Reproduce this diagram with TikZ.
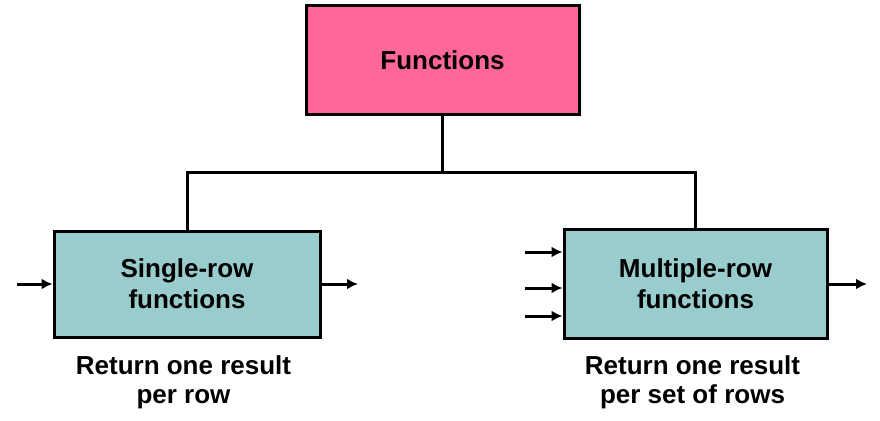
\documentclass[tikz,border=0pt]{standalone}
\usepackage{fontspec}
\setmainfont{Liberation Sans}
\usetikzlibrary{arrows.meta}
\definecolor{boxpink}{HTML}{FF6699}
\definecolor{boxteal}{HTML}{99CCCC}
\begin{document}
\begin{tikzpicture}[x=1pt,y=1pt,
  every node/.style={font=\bfseries\fontsize{26}{31}\selectfont, align=center, inner sep=0pt},
  fbox/.style={draw=black, line width=3pt},
  conn/.style={line width=3pt},
  arr/.style={line width=3pt, -{Latex[length=11pt,width=11pt]}},
  lbl/.style={font=\bfseries\fontsize{26}{29}\selectfont}
]
\useasboundingbox (0,0) rectangle (880,-420);
\node[fbox, fill=boxpink, minimum width=273pt, minimum height=108pt] (top) at (442.5,-60) {Functions};
\node[fbox, fill=boxteal, minimum width=266pt, minimum height=106pt] (lbox) at (187,-284) {Single-row\\functions};
\node[fbox, fill=boxteal, minimum width=263pt, minimum height=109pt] (rbox) at (695.5,-283.5) {Multiple-row\\functions};
\node[lbl] (llbl) at (183.5,-382) {Return one result\\per row};
\node[lbl] (rlbl) at (692.5,-382) {Return one result\\per set of rows};
\coordinate (j) at (442.5,-172);
\draw[conn] (top.south) -- (j);
\draw[conn] (lbox.north) |- (j) -| (rbox.north);
\coordinate (lin) at (17,-284);
\coordinate (lout) at (358,-284);
\draw[arr] (lin) -- (lbox.west);
\draw[arr] (lbox.east) -- (lout);
\coordinate (r1) at (525,-252);
\coordinate (r2) at (525,-288);
\coordinate (r3) at (525,-316);
\coordinate (rout) at (867,-284);
\draw[arr] (r1) -- (r1 -| rbox.west);
\draw[arr] (r2) -- (r2 -| rbox.west);
\draw[arr] (r3) -- (r3 -| rbox.west);
\draw[arr] (rbox.east |- rout) -- (rout);
\end{tikzpicture}
\end{document}
